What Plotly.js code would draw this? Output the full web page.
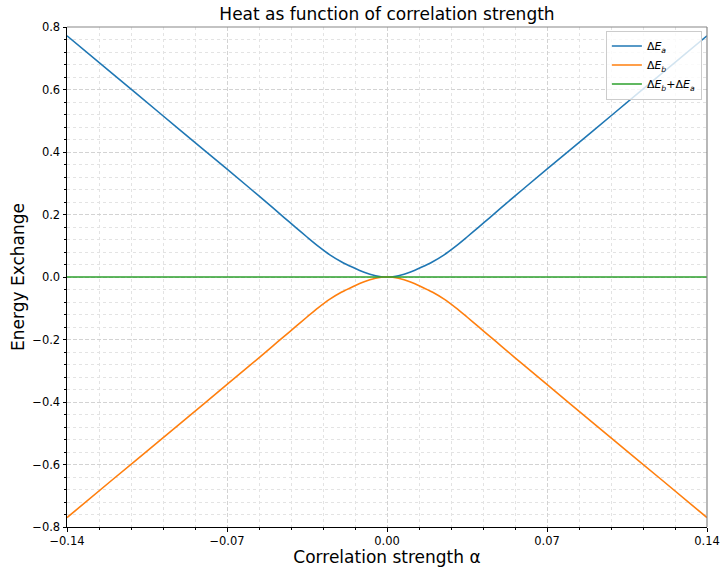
<!DOCTYPE html>
<html>
<head>
<meta charset="utf-8">
<script src="https://cdn.plot.ly/plotly-3.0.1.min.js"></script>
<style>html,body{margin:0;padding:0;background:#fff;}#chart{width:720px;height:567px;}</style>
</head>
<body>
<div id="chart"></div>
<script>
// Correlation strength alpha
const alpha = [-0.14, -0.12, -0.10, -0.08, -0.06, -0.05, -0.045, -0.04, -0.035, -0.03, -0.025, -0.02, -0.015, -0.01, -0.005, -0.0025, 0,
               0.0025, 0.005, 0.01, 0.015, 0.02, 0.025, 0.03, 0.035, 0.04, 0.045, 0.05, 0.06, 0.08, 0.10, 0.12, 0.14];
// Delta E_a
const dEa = [0.772, 0.650, 0.528, 0.406, 0.284, 0.222, 0.190, 0.159, 0.128, 0.098, 0.071, 0.049, 0.031, 0.015, 0.004, 0.001, 0.0,
             0.001, 0.004, 0.015, 0.031, 0.049, 0.071, 0.098, 0.128, 0.159, 0.190, 0.222, 0.284, 0.406, 0.528, 0.650, 0.772];
// Delta E_b
const dEb = [-0.770, -0.648, -0.527, -0.405, -0.283, -0.221, -0.190, -0.159, -0.128, -0.098, -0.071, -0.049, -0.031, -0.015, -0.004, -0.001, 0.0,
             -0.001, -0.004, -0.015, -0.031, -0.049, -0.071, -0.098, -0.128, -0.159, -0.190, -0.221, -0.283, -0.405, -0.527, -0.648, -0.770];
// Sum
const dSum = [0, 0, 0, 0, 0, 0, 0, 0, 0, 0, 0, 0, 0, 0, 0, 0, 0,
              0, 0, 0, 0, 0, 0, 0, 0, 0, 0, 0, 0, 0, 0, 0, 0];

const seriesNames = ['Δ<i>E<sub>a</sub></i>', 'Δ<i>E<sub>b</sub></i>', 'Δ<i>E<sub>b</sub></i>+Δ<i>E<sub>a</sub></i>'];
const colors = ['#1f77b4', '#ff7f0e', '#2ca02c'];
const ys = [dEa, dEb, dSum];

const traces = ys.map((y, i) => ({
  x: alpha, y: y, type: 'scatter', mode: 'lines', name: seriesNames[i],
  line: {color: colors[i], width: 1.6, shape: 'spline', smoothing: 0.8}
}));

const font = {family: 'DejaVu Sans, sans-serif', color: '#000'};
const axisCommon = {
  showline: true, linecolor: '#000', linewidth: 1, mirror: false,
  ticks: 'outside', ticklen: 3.5, tickwidth: 1, tickcolor: '#000',
  tickfont: {family: 'DejaVu Sans, sans-serif', size: 11.5, color: '#000'},
  showgrid: true, gridcolor: '#d3d3d3', griddash: '4px,2px', gridwidth: 1,
  zeroline: false
};

const layout = {
  width: 720, height: 567,
  margin: {l: 67, r: 13, t: 27, b: 40},
  paper_bgcolor: '#fff', plot_bgcolor: '#fff',
  font: font,
  showlegend: true,
  title: {text: 'Heat as function of correlation strength', font: {family: 'DejaVu Sans, sans-serif', size: 17, color: '#000'},
          x: 0.5, xref: 'paper', y: 0.975, yref: 'container', yanchor: 'middle'},
  xaxis: Object.assign({}, axisCommon, {
    range: [-0.14, 0.14], tickmode: 'linear', tick0: -0.14, dtick: 0.07, tickformat: '.2f',
    minor: {tick0: -0.14, dtick: 0.014, showgrid: true, gridcolor: '#e3e3e3', griddash: 'dot', gridwidth: 1,
            ticks: 'outside', ticklen: 2, tickcolor: '#000'},
    title: {text: 'Correlation strength α', font: {family: 'DejaVu Sans, sans-serif', size: 17, color: '#000'}, standoff: 11}
  }),
  yaxis: Object.assign({}, axisCommon, {
    range: [-0.8, 0.8], tickmode: 'linear', tick0: -0.8, dtick: 0.2, tickformat: '.1f',
    minor: {tick0: -0.8, dtick: 0.04, showgrid: true, gridcolor: '#e3e3e3', griddash: 'dot', gridwidth: 1,
            ticks: 'outside', ticklen: 2, tickcolor: '#000'},
    title: {text: 'Energy Exchange', font: {family: 'DejaVu Sans, sans-serif', size: 17, color: '#000'}, standoff: 3}
  }),
  legend: {
    x: 0.992, y: 0.993, xanchor: 'right', yanchor: 'top',
    bgcolor: 'rgba(255,255,255,0.8)', bordercolor: '#cccccc', borderwidth: 1,
    font: {family: 'DejaVu Sans, sans-serif', size: 11, color: '#000'},
    tracegroupgap: 0, itemwidth: 30
  },
  shapes: [
    {type: 'line', xref: 'paper', yref: 'paper', x0: 0, x1: 1, y0: 1, y1: 1, line: {color: '#888888', width: 1.2}},
    {type: 'line', xref: 'paper', yref: 'paper', x0: 1, x1: 1, y0: 0, y1: 1, line: {color: '#888888', width: 1.2}}
  ]
};

Plotly.newPlot('chart', traces, layout, {displayModeBar: false, staticPlot: true});
</script>
</body>
</html>
